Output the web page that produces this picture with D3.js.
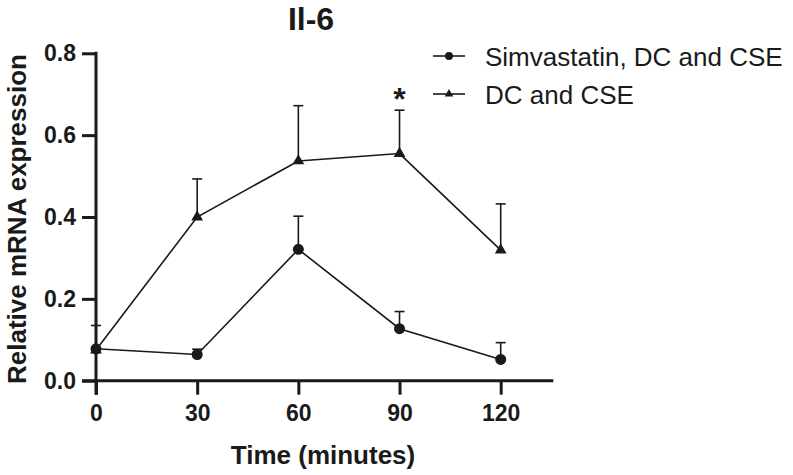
<!DOCTYPE html>
<html>
<head>
<meta charset="utf-8">
<script src="https://cdn.jsdelivr.net/npm/d3@7"></script>
<style>
  html, body { margin: 0; padding: 0; background: #fff; }
  svg { display: block; }
  text { font-family: "Liberation Sans", Arial, Helvetica, sans-serif; fill: #1a1a1a; }
</style>
</head>
<body>
<svg id="chart" width="793" height="475"></svg>
<script>
// ---- data ----
const times = [0, 30, 60, 90, 120];
const simvaMean = [0.078, 0.064, 0.321, 0.127, 0.052];
const simvaErr  = [0.080, 0.077, 0.402, 0.169, 0.093]; // top of error bars
const dcMean    = [0.075, 0.400, 0.537, 0.555, 0.319];
const dcErr     = [0.135, 0.493, 0.672, 0.661, 0.432];
const xTicks = [0, 30, 60, 90, 120];
const yTicks = [0.0, 0.2, 0.4, 0.6, 0.8];
const seriesNames = ["Simvastatin, DC and CSE", "DC and CSE"];
const titleText = "Il-6";
const xTitle = "Time (minutes)";
const yTitle = "Relative mRNA expression";
const sigTime = 90;

const svg = d3.select("#chart");
const x = d3.scaleLinear().domain([0, 120]).range([96, 500.7]);
const y = d3.scaleLinear().domain([0, 0.8]).range([380.7, 53.3]);
const xEnd = 135.6;
const tick = 14;

// title
svg.append("text").attr("x", 311).attr("y", 30).attr("text-anchor", "middle")
  .style("font-size", "32px").style("font-weight", "bold").text(titleText);

// axes
const yAxis = d3.axisLeft(y).tickValues(yTicks).tickFormat(d3.format(".1f"))
  .tickSize(tick).tickSizeOuter(0).tickPadding(6);
const gy = svg.append("g").attr("transform", `translate(${x(0)},0)`).call(yAxis);
gy.select(".domain").remove();
gy.selectAll(".tick line").attr("stroke", "#1a1a1a").attr("stroke-width", 3);
gy.selectAll(".tick text").style("font-size", "23px").style("font-weight", "bold")
  .style("font-family", "'Liberation Sans', Arial, sans-serif").attr("fill", "#1a1a1a");

const xAxis = d3.axisBottom(x).tickValues(xTicks).tickSize(tick).tickSizeOuter(0).tickPadding(10);
const gx = svg.append("g").attr("transform", `translate(0,${y(0)})`).call(xAxis);
gx.select(".domain").remove();
gx.selectAll(".tick line").attr("stroke", "#1a1a1a").attr("stroke-width", 3);
gx.selectAll(".tick text").style("font-size", "23px").style("font-weight", "bold")
  .style("font-family", "'Liberation Sans', Arial, sans-serif").attr("fill", "#1a1a1a");

svg.append("line").attr("x1", x(0)).attr("x2", x(0)).attr("y1", y(0.8) - 1.5).attr("y2", y(0) + tick)
  .attr("stroke", "#1a1a1a").attr("stroke-width", 3);
svg.append("line").attr("x1", x(0) - tick).attr("x2", x(xEnd)).attr("y1", y(0)).attr("y2", y(0))
  .attr("stroke", "#1a1a1a").attr("stroke-width", 3);

// axis titles
svg.append("text").attr("x", 323).attr("y", 464).attr("text-anchor", "middle")
  .style("font-size", "26px").style("font-weight", "bold").text(xTitle);
svg.append("text").attr("transform", `translate(26,${(y(0) + y(0.8)) / 2 + 2}) rotate(-90)`)
  .attr("text-anchor", "middle")
  .style("font-size", "26px").style("font-weight", "bold").text(yTitle);

// series
const line = d3.line().x(d => x(d.t)).y(d => y(d.v));
const tri = d3.symbol().type(d3.symbolTriangle).size(60);
const circ = d3.symbol().type(d3.symbolCircle).size(95);

function drawSeries(means, errs, sym) {
  const data = times.map((t, i) => ({ t, v: means[i], e: errs[i] }));
  svg.append("path").datum(data).attr("d", line).attr("fill", "none")
    .attr("stroke", "#1a1a1a").attr("stroke-width", 1.6);
  const eb = svg.append("g");
  data.forEach(d => {
    eb.append("line").attr("x1", x(d.t)).attr("x2", x(d.t)).attr("y1", y(d.v)).attr("y2", y(d.e))
      .attr("stroke", "#1a1a1a").attr("stroke-width", 1.6);
    eb.append("line").attr("x1", x(d.t) - 5).attr("x2", x(d.t) + 5).attr("y1", y(d.e)).attr("y2", y(d.e))
      .attr("stroke", "#1a1a1a").attr("stroke-width", 1.6);
  });
  svg.append("g").selectAll("path").data(data).join("path")
    .attr("d", sym).attr("transform", d => `translate(${x(d.t)},${y(d.v)})`)
    .attr("fill", "#1a1a1a");
}
drawSeries(dcMean, dcErr, tri);
drawSeries(simvaMean, simvaErr, circ);

// significance
svg.append("text").attr("x", x(sigTime)).attr("y", 110).attr("text-anchor", "middle")
  .style("font-size", "32px").style("font-weight", "bold").text("*");

// legend
const leg = [{ name: seriesNames[0], sym: d3.symbol().type(d3.symbolCircle).size(50), y: 56 },
             { name: seriesNames[1], sym: d3.symbol().type(d3.symbolTriangle).size(32), y: 94 }];
leg.forEach(l => {
  svg.append("line").attr("x1", 433).attr("x2", 465).attr("y1", l.y).attr("y2", l.y)
    .attr("stroke", "#1a1a1a").attr("stroke-width", 1.6);
  svg.append("path").attr("d", l.sym).attr("transform", `translate(449,${l.y})`).attr("fill", "#1a1a1a");
  svg.append("text").attr("x", 485).attr("y", l.y + 9.5).style("font-size", "26px").text(l.name);
});
</script>
</body>
</html>
